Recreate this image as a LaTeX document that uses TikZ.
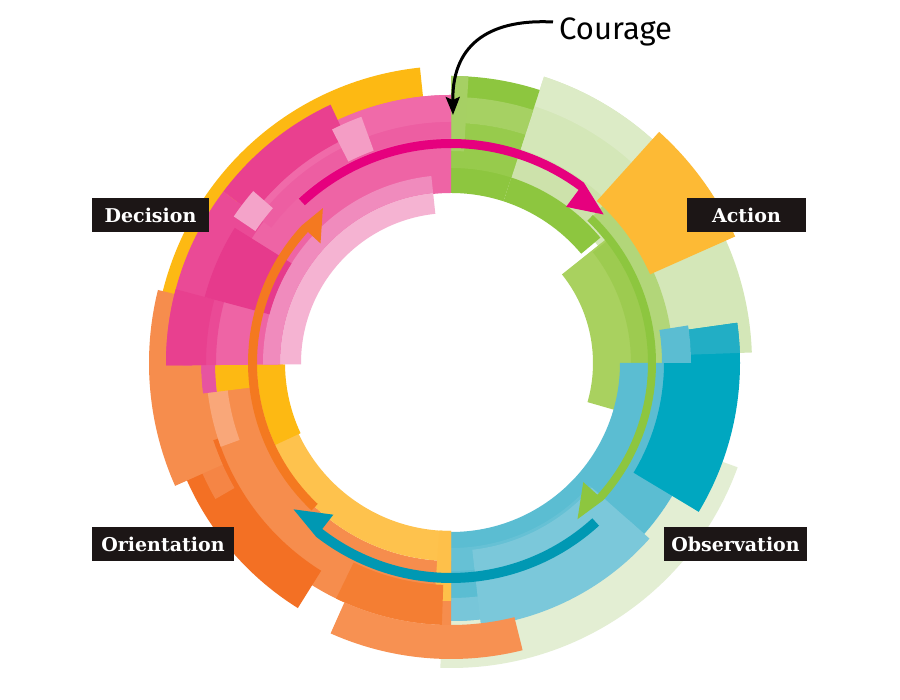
\documentclass[tikz,border=0pt]{standalone}
\usepackage{fontspec}
\setmainfont{DejaVu Serif}
\newfontfamily\handfont{Fira Sans}
\usetikzlibrary{arrows.meta}
\newcommand\annsec[5]{\definecolor{tmpc}{HTML}{#5}\fill[tmpc] (#1:#3) arc[start angle=#1,end angle=#2,radius=#3] -- (#2:#4) arc[start angle=#2,end angle=#1,radius=#4] -- cycle;}
\newcommand\ringarrow[8]{\definecolor{tmpc}{HTML}{#8}\fill[tmpc] (#1:#4) arc[start angle=#1,end angle=#2,radius=#4] -- (#3:#6) -- (#2:#7) -- (#2:#5) arc[start angle=#2,end angle=#1,radius=#5] -- cycle;}
\definecolor{labbg}{HTML}{1C1616}
\tikzset{lab/.style={fill=labbg,text=white,inner sep=0pt,minimum height=34pt,font=\bfseries\fontsize{19}{21}\selectfont}}
\begin{document}
\begin{tikzpicture}[x=1pt,y=1pt]
\useasboundingbox (0,0) rectangle (900,700);
\fill[white] (0,0) rectangle (900,700);
\begin{scope}[shift={(451,337)}]
% ---------- top-right: green
\annsec{2}{72}{188}{301}{D4E7B8}
\annsec{46}{72}{270}{301}{DCEBC6}
\annsec{46}{72}{195}{225}{CDE2AB}
\annsec{72}{90}{170}{287}{8DC63F}
\annsec{72}{90}{195}{240}{97CB4C}
\annsec{72}{90}{240}{266}{A6D163}
\annsec{86.5}{90}{212}{287}{A6D064}
\annsec{40}{72}{170}{195}{8DC63F}
\annsec{-16}{38.6}{142}{200}{A9D15F}
\annsec{-2}{38}{180}{200}{9DCB50}
\annsec{-2}{46}{200}{222}{B2D679}
\annsec{24}{48}{218}{311}{FDBA35}
% ---------- bottom-right: blue
\annsec{-92}{-20}{258}{305}{E3EED3}
\annsec{-90}{0}{169}{258}{5BBDD2}
\annsec{-90}{-41.5}{185}{208}{66C1D5}
\annsec{-90}{-41.5}{235}{258}{78C6D9}
\annsec{-83.5}{-41.5}{188}{265}{7BC8DA}
\annsec{-31}{8}{213}{289}{00A7C0}
\annsec{2}{8}{240}{289}{22AEC5}
\annsec{0}{9}{211}{240}{5BBDD2}
% ---------- bottom-left: orange
\annsec{180}{270}{198}{262}{F68D4D}
\annsec{180}{270}{168}{198}{FEC24D}
\annsec{180.5}{205}{166}{194}{FDB913}
\annsec{266}{270}{168}{238}{FEC04A}
\annsec{244}{268}{222}{262}{F47E33}
\annsec{198}{238}{245}{289}{F37024}
\annsec{200}{210}{250}{272}{F58545}
\annsec{246}{284}{262}{296}{F79152}
\annsec{185}{200}{225}{245}{F9A779}
\annsec{180.5}{187}{200}{236}{FDB913}
\annsec{180.5}{187}{236}{250}{E754A0}
% ---------- top-left: pink
\annsec{96}{168}{250}{297}{FDB913}
\annsec{166}{204}{250}{302}{F68D4D}
\annsec{90}{180.5}{170}{268}{EE64A5}
\annsec{96}{180.5}{150}{171}{F5B3D2}
\annsec{96}{180.5}{171}{188}{F08BBD}
\annsec{90}{143}{241}{268}{F06AA9}
\annsec{90}{143}{225}{241}{ED5EA2}
\annsec{115}{143}{248}{285}{E9408F}
\annsec{143}{180.5}{235}{285}{EA4A96}
\annsec{165}{180.5}{245}{285}{E8408F}
\annsec{148}{165}{188}{255}{E63A8C}
\annsec{139}{146}{236}{262}{F4A3C9}
\annsec{110}{117}{226}{262}{F49DC5}
% ---------- arrows
\ringarrow{132.8}{53.6}{44.2}{224}{215}{213}{194}{E6007E}
\ringarrow{46.2}{-42}{-51}{205}{197}{201}{178}{8DC63F}
\ringarrow{-47.7}{-127.8}{-137.1}{220}{210}{215}{192}{0098B3}
\ringarrow{226.6}{137.5}{129.6}{203}{194}{201}{177}{F47920}
\end{scope}
% ---------- labels
\node[lab,minimum width=117pt] (dec) at (150.5,485) {Decision};
\node[lab,minimum width=119pt] (act) at (746.5,485) {Action};
\node[lab,minimum width=143pt] (obs) at (735.5,155.5) {Observation};
\node[lab,minimum width=142pt] (ori) at (163,155.5) {Orientation};
% ---------- courage
\node[anchor=west,inner sep=0pt,font=\handfont\fontsize{31}{31}\selectfont,text=black] (cour) at (559,668) {Courage};
\coordinate (ctip) at (453,585);
\draw[line width=3pt,-{Stealth[length=18pt,width=14pt,inset=3pt]}] ([shift={(-6pt,10pt)}]cour.west) .. controls (495,681) and (452,660) .. (ctip);
\end{tikzpicture}
\end{document}
